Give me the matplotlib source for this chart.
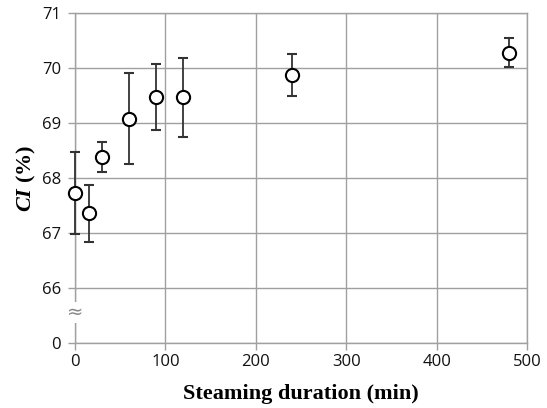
import matplotlib.pyplot as plt

# steaming time (min) and CI (%) with error bars
duration = [0, 15, 30, 60, 90, 120, 240, 480]
ci_mean = [67.73, 67.36, 68.38, 69.08, 69.48, 69.47, 69.87, 70.28]
ci_err = [0.75, 0.52, 0.27, 0.83, 0.60, 0.72, 0.38, 0.27]

# y axis is broken: the bottom tick stands for 0
y_ticks = [65, 66, 67, 68, 69, 70, 71]
y_labels = ["0", "66", "67", "68", "69", "70", "71"]
x_ticks = [0, 100, 200, 300, 400, 500]

plt.rcParams['mathtext.fontset'] = 'custom'
plt.rcParams['mathtext.rm'] = 'Liberation Serif:bold'
plt.rcParams['mathtext.bfit'] = 'Liberation Serif:italic:bold'

fig = plt.figure(figsize=(5.47, 4.08), dpi=100)
ax = fig.add_axes([75 / 547, 1 - 343 / 408, 452 / 547, 330 / 408])

grid_col = '#a0a0a0'
ax.errorbar(duration, ci_mean, yerr=ci_err, fmt='o', color='#222222',
            ecolor='#333333', elinewidth=1.3, capsize=3.5, capthick=1.3,
            markersize=9.5, markerfacecolor='white', markeredgecolor='black',
            markeredgewidth=1.5, zorder=5, clip_on=False)

ax.set_xlim(0, 500)
ax.set_ylim(65, 71)
ax.set_xticks(x_ticks)
ax.set_yticks(y_ticks)
ax.set_yticklabels(y_labels)
ax.grid(True, color=grid_col, linewidth=1.0)
ax.set_axisbelow(True)
for s in ax.spines.values():
    s.set_color(grid_col)
    s.set_linewidth(1.0)
ax.tick_params(axis='both', colors=grid_col, length=5, width=1.0,
               labelcolor='#111111', labelsize=12, pad=3)
ax.tick_params(axis='y', pad=5)
for lab in ax.get_xticklabels() + ax.get_yticklabels():
    lab.set_fontfamily('Open Sans')

# axis break mark
ax.text(0, 65.55, '≈', ha='center', va='center', fontsize=14, color='#888888',
        family='DejaVu Sans', zorder=6, clip_on=False,
        bbox=dict(facecolor='white', edgecolor='none', pad=0.5))

ax.set_xlabel('Steaming duration (min)', family='Liberation Serif',
              fontweight='bold', fontsize=16, labelpad=10)
ax.set_ylabel(r'$\mathbfit{CI}$ (%)', family='Liberation Serif',
              fontweight='bold', fontsize=16, labelpad=3)

fig.savefig('out.png', dpi=100)
